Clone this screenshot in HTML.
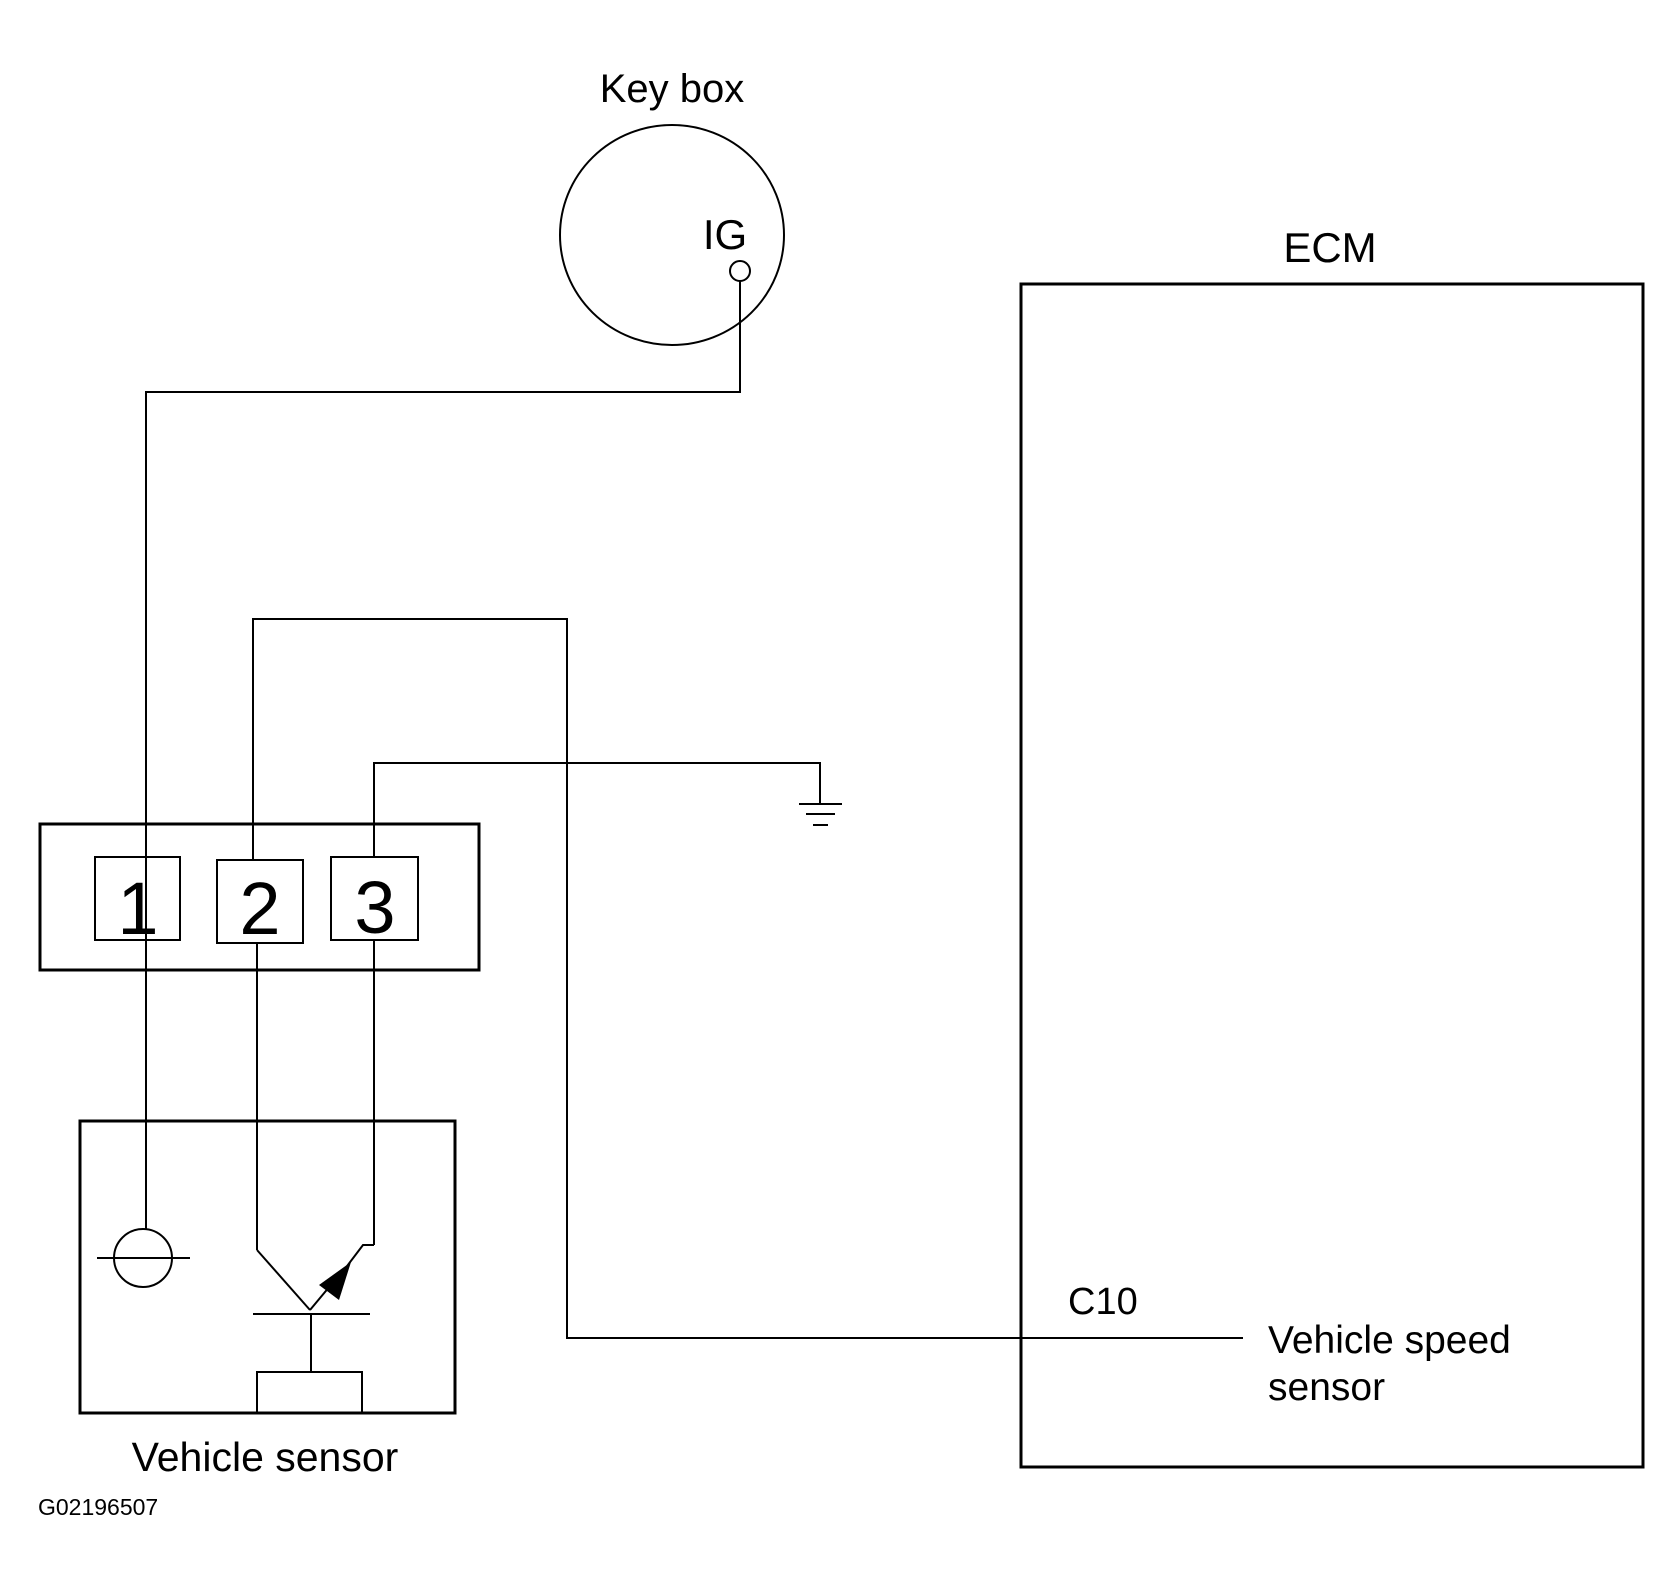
<!DOCTYPE html>
<html><head><meta charset="utf-8"><style>
html,body{margin:0;padding:0;background:#fff;}
svg{display:block;}
text{font-family:"Liberation Sans",Arial,sans-serif;fill:#000;}
</style></head><body>
<svg width="1679" height="1592" viewBox="0 0 1679 1592" xmlns="http://www.w3.org/2000/svg">
<g fill="none" stroke="#000" stroke-width="2">
<ellipse cx="672" cy="235" rx="112" ry="110"/>
<circle cx="740" cy="271" r="10"/>
<polyline points="740,281 740,392 146,392 146,1229"/>
<polyline points="253,860 253,619 567,619 567,1338 1243,1338"/>
<polyline points="374,857 374,763 820,763 820,804"/>
<line x1="799" y1="804" x2="842" y2="804"/>
<line x1="806" y1="814" x2="835" y2="814"/>
<line x1="813" y1="825" x2="828" y2="825"/>
<rect x="1021" y="284" width="622" height="1183" stroke-width="3"/>
<rect x="40" y="824" width="439" height="146" stroke-width="3"/>
<rect x="95" y="857" width="85" height="83"/>
<rect x="217" y="860" width="86" height="83"/>
<rect x="331" y="857" width="87" height="83"/>
<line x1="257" y1="943" x2="257" y2="1250"/>
<line x1="374" y1="940" x2="374" y2="1245"/>
<rect x="80" y="1121" width="375" height="292" stroke-width="3"/>
<circle cx="143" cy="1258" r="29"/>
<line x1="97" y1="1258" x2="190" y2="1258"/>
<polyline points="257,1250 310,1310"/>
<polyline points="374,1245 363,1245 338,1278"/>
<line x1="310" y1="1310" x2="330" y2="1286"/>
<line x1="253" y1="1314" x2="370" y2="1314"/>
<line x1="311" y1="1314" x2="311" y2="1372"/>
<rect x="257" y="1372" width="105" height="41"/>
</g>
<polygon points="351,1262 339,1300 319,1285" fill="#000"/>
<text x="672" y="102" font-size="40" text-anchor="middle">Key box</text>
<text x="725" y="249" font-size="42" text-anchor="middle">IG</text>
<text x="1330" y="262" font-size="42" text-anchor="middle">ECM</text>
<text x="138" y="934" font-size="74" text-anchor="middle">1</text>
<text x="260" y="934" font-size="74" text-anchor="middle">2</text>
<text x="375" y="933" font-size="74" text-anchor="middle">3</text>
<text x="1068" y="1314" font-size="38">C10</text>
<text x="1268" y="1353" font-size="39">Vehicle speed</text>
<text x="1268" y="1400" font-size="39">sensor</text>
<text x="265" y="1471" font-size="41" text-anchor="middle">Vehicle sensor</text>
<text x="38" y="1515" font-size="23">G02196507</text>
</svg>
</body></html>
